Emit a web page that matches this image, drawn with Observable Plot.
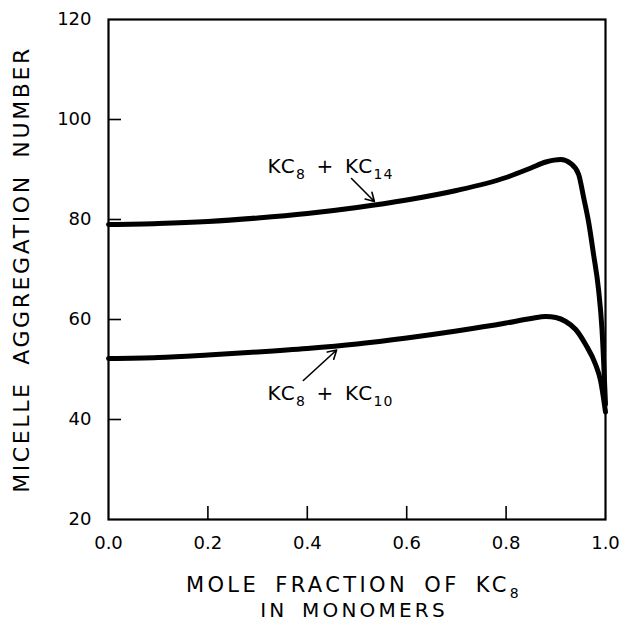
<!DOCTYPE html>
<html><head><meta charset="utf-8">
<script src="https://cdn.jsdelivr.net/npm/d3@7"></script>
<script src="https://cdn.jsdelivr.net/npm/@observablehq/plot@0.6"></script>
<style>body{margin:0;background:#fff} svg{display:block}</style>
</head><body><div id="chart"></div>
<script>
// ---- data ----
const molFracKC14 = [0, 0.1, 0.2, 0.3, 0.4, 0.5, 0.6, 0.7, 0.8, 0.85, 0.88, 0.91, 0.93, 0.946, 0.956, 0.966, 0.976, 0.986, 0.993, 1.0];
const aggKC14     = [79, 79.2, 79.6, 80.3, 81.2, 82.4, 83.9, 85.8, 88.4, 90.3, 91.5, 92.0, 91.2, 89.0, 84.4, 79.5, 73, 66, 58, 43];
const molFracKC10 = [0, 0.1, 0.2, 0.3, 0.4, 0.5, 0.6, 0.7, 0.8, 0.85, 0.88, 0.9, 0.92, 0.94, 0.96, 0.98, 0.99, 1.0];
const aggKC10     = [52.2, 52.4, 52.9, 53.5, 54.2, 55.1, 56.3, 57.7, 59.3, 60.2, 60.6, 60.4, 59.6, 58.0, 55.0, 51.0, 47.8, 41.5];
const xTickLabels = [0, 0.2, 0.4, 0.6, 0.8, 1.0];
const yTickLabels = [20, 40, 60, 80, 100, 120];
const xInnerTicks = [0.2, 0.4, 0.6, 0.8];
const yInnerTicks = [40, 60, 80, 100];
const labelKC14 = [["KC", false], ["8", true], [" + KC", false], ["14", true]];
const labelKC10 = [["KC", false], ["8", true], [" + KC", false], ["10", true]];
const xTitle1 = [["MOLE FRACTION OF KC", false], ["8", true]];
const xTitle2 = "IN MONOMERS";
const yTitle = "MICELLE AGGREGATION NUMBER";

// annotations (label anchor and arrow ends, in data units)
const notes = [
  {key: "L14", x: 0.32, y: 90.6, ax1: 0.489, ay1: 88.2, ax2: 0.535, ay2: 83.6, parts: labelKC14},
  {key: "L10", x: 0.32, y: 45.2, ax1: 0.392, ay1: 47.8, ax2: 0.459, ay2: 53.9, parts: labelKC10}
];

const s14 = molFracKC14.map((x, i) => ({x, y: aggKC14[i]}));
const s10 = molFracKC10.map((x, i) => ({x, y: aggKC10[i]}));

const FONT = "DejaVu Sans";
const plot = Plot.plot({
  width: 624, height: 623,
  marginLeft: 108, marginRight: 19, marginTop: 19, marginBottom: 104,
  x: {domain: [0, 1]},
  y: {domain: [20, 120]},
  style: {fontFamily: FONT, fontSize: "18px", color: "#000", background: "#fff"},
  marks: [
    Plot.axisX({ticks: xInnerTicks, tickSize: -13, tickFormat: () => "", label: null, strokeWidth: 1.6}),
    Plot.axisY({ticks: yInnerTicks, tickSize: -13, tickFormat: () => "", label: null, strokeWidth: 1.6}),
    Plot.axisX({ticks: xTickLabels, tickSize: 0, tickPadding: 17, tickFormat: d3.format(".1f"), label: null, fontSize: 18}),
    Plot.axisY({ticks: yTickLabels, tickSize: 0, tickPadding: 17, tickFormat: d3.format("d"), label: null, fontSize: 18}),
    Plot.frame({stroke: "#000", strokeWidth: 2.2}),
    Plot.line(s14, {x: "x", y: "y", stroke: "#000", strokeWidth: 5, curve: "monotone-x"}),
    Plot.line(s10, {x: "x", y: "y", stroke: "#000", strokeWidth: 5, curve: "monotone-x"}),
    Plot.arrow(notes, {x1: "ax1", y1: "ay1", x2: "ax2", y2: "ay2", stroke: "#000", strokeWidth: 1.6, headLength: 9, bend: 0}),
    Plot.text(notes, {x: "x", y: "y", text: "key", textAnchor: "start", fontSize: 20, fill: "#000"}),
    Plot.text(["YTITLE"], {frameAnchor: "left", textAnchor: "middle", dx: -87, dy: 0, rotate: -90, text: d => d, fontSize: 22, fill: "#000"}),
    Plot.text(["XTITLE1"], {frameAnchor: "bottom", textAnchor: "middle", dx: -3, dy: 72, text: d => d, fontSize: 21, fill: "#000"}),
    Plot.text(["XTITLE2"], {frameAnchor: "bottom", textAnchor: "middle", dx: -3, dy: 97, text: d => d, fontSize: 20, fill: "#000"})
  ]
});

function rich(el, parts, subSize, shift) {
  const t = d3.select(el);
  t.text(null);
  let low = false;
  for (const [s, sub] of parts) {
    const ts = t.append("tspan").text(s);
    if (sub && !low) { ts.attr("dy", shift); low = true; }
    else if (!sub && low) { ts.attr("dy", -shift); low = false; }
    if (sub) ts.attr("font-size", subSize);
  }
}

d3.select(plot).selectAll("text").each(function() {
  const txt = this.textContent;
  const n = notes.find(d => d.key === txt);
  if (n) { rich(this, n.parts, 14, 6); d3.select(this).attr("letter-spacing", 1.2).attr("word-spacing", 3); }
  else if (txt === "XTITLE1") { rich(this, xTitle1, 14, 6); d3.select(this).attr("letter-spacing", 3.4).attr("word-spacing", 6); }
  else if (txt === "XTITLE2") { d3.select(this).text(xTitle2).attr("letter-spacing", 3.2).attr("word-spacing", 5); }
  else if (txt === "YTITLE") { d3.select(this).text(yTitle).attr("letter-spacing", 2.6).attr("word-spacing", 7); }
});

document.getElementById("chart").appendChild(plot);
</script>
</body></html>
